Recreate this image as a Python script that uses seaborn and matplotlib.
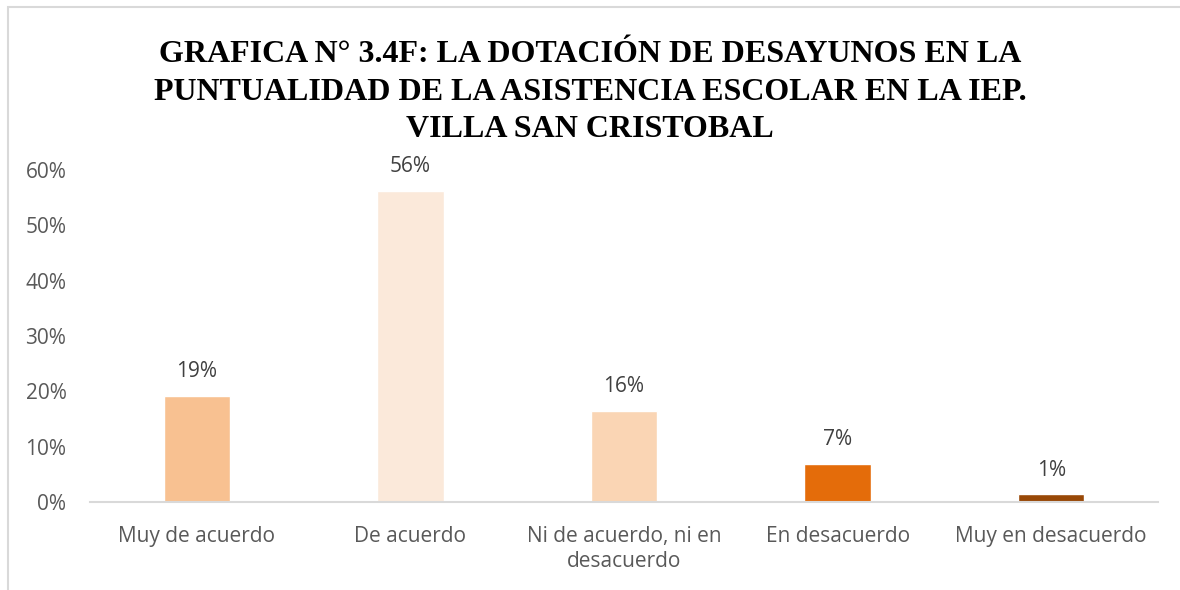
import matplotlib
matplotlib.use("Agg")
import matplotlib.pyplot as plt
import seaborn as sns
import pandas as pd
from matplotlib.patches import Rectangle

categories = ["Muy de acuerdo", "De acuerdo", "Ni de acuerdo, ni en\ndesacuerdo",
              "En desacuerdo", "Muy en desacuerdo"]
values = [0.1918, 0.5616, 0.1644, 0.0685, 0.0137]
labels = ["19%", "56%", "16%", "7%", "1%"]
colors = ["#F8C191", "#FBE9DA", "#FAD5B4", "#E46C0A", "#984807"]
yticks = [0, 0.1, 0.2, 0.3, 0.4, 0.5, 0.6]
ytick_labels = ["0%", "10%", "20%", "30%", "40%", "50%", "60%"]
title = ("GRAFICA N° 3.4F: LA DOTACIÓN DE DESAYUNOS EN LA\n"
         "PUNTUALIDAD DE LA ASISTENCIA ESCOLAR EN LA IEP.\n"
         "VILLA SAN CRISTOBAL")

sns.set_theme(style="white")
plt.rcParams['font.family'] = ['Open Sans', 'DejaVu Sans']

df = pd.DataFrame({"cat": categories, "val": values})

fig = plt.figure(figsize=(11.8, 5.9), dpi=100)
ax = fig.add_axes([90/1180, 1-502/590, (1158-90)/1180, (502-170)/590])

sns.barplot(data=df, x="cat", y="val", hue="cat", palette=colors, legend=False,
            width=0.31, ax=ax, saturation=1)

ax.set_ylim(0, 0.6)
ax.set_xlim(-0.5, 4.5)
ax.set_yticks(yticks)
ax.set_yticklabels(ytick_labels)
ax.set_xlabel("")
ax.set_ylabel("")
for s in ["top", "right", "left"]:
    ax.spines[s].set_visible(False)
ax.spines["bottom"].set_color("#D9D9D9")
ax.spines["bottom"].set_linewidth(1.5)
ax.tick_params(axis="both", length=0, colors="#595959", labelsize=15)
ax.tick_params(axis="x", pad=17)
ax.tick_params(axis="y", pad=17)
for t in ax.get_xticklabels():
    t.set_linespacing(1.3)

for i, (v, lab) in enumerate(zip(values, labels)):
    ax.annotate(lab, (i, v), xytext=(0, 10), textcoords="offset points",
                ha="center", va="bottom", fontsize=15, color="#404040")

fig.text(0.5, 1-92/590, title, ha="center", va="center",
         fontfamily="Liberation Serif", fontweight="bold", fontsize=23,
         color="black", linespacing=1.4)

fig.patches.append(Rectangle((8/1180, -0.1), 1.2, 0.1 + 1-6.5/590, transform=fig.transFigure,
                             fill=False, edgecolor="#D9D9D9", linewidth=1.5))

fig.savefig("out.png", dpi=100)
